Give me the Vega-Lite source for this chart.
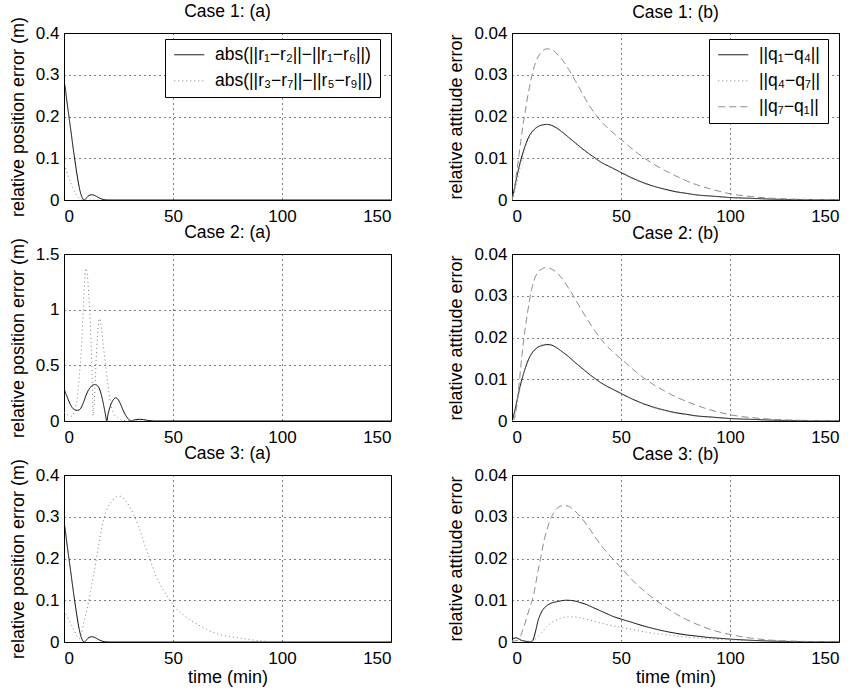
{
  "$schema": "https://vega.github.io/schema/vega-lite/v6.json",
  "background": "white",
  "padding": {"left": 8, "top": 2, "right": 5, "bottom": 0},
  "config": {
    "font": "Liberation Sans",
    "view": {"stroke": "black", "strokeWidth": 1},
    "axis": {"domain": false, "ticks": false, "grid": true, "gridColor": "black", "gridDash": [1, 4], "gridOpacity": 1, "gridWidth": 1,
      "labelFontSize": 17, "labelColor": "black", "titleFontSize": 18, "titleFontWeight": "normal", "titleColor": "black"},
    "axisX": {"labelPadding": 8, "titlePadding": 2},
    "axisY": {"labelPadding": 5, "titlePadding": 8},
    "title": {"fontSize": 17.5, "fontWeight": "normal", "color": "black"},
    "legend": {"strokeColor": "black", "fillColor": "white", "padding": 7, "labelFontSize": 17.5, "labelColor": "black", "symbolType": "M-1.875,0H1.875", "symbolSize": 256, "symbolStrokeWidth": 1, "symbolOffset": 8.5, "labelOffset": 17, "cornerRadius": 0, "rowPadding": 7}
  },
  "columns": 2,
  "spacing": {"row": 54, "column": 121},
  "bounds": "flush",
  "resolve": {"scale": {"color": "independent", "strokeDash": "independent"}, "legend": {"color": "independent", "strokeDash": "independent"}},
  "datasets": {
    "c1a": [
      {"t":0,"v":0.283,"s":"A"},{"t":0.5,"v":0.272,"s":"A"},{"t":1,"v":0.25,"s":"A"},{"t":2,"v":0.21,"s":"A"},{"t":3,"v":0.172,"s":"A"},{"t":4,"v":0.132,"s":"A"},{"t":5,"v":0.095,"s":"A"},{"t":6,"v":0.06,"s":"A"},{"t":7,"v":0.03,"s":"A"},{"t":8,"v":0.01,"s":"A"},{"t":9,"v":0.001,"s":"A"},{"t":9.4,"v":0,"s":"A"},{"t":10,"v":0.003,"s":"A"},{"t":11,"v":0.009,"s":"A"},{"t":12.5,"v":0.0125,"s":"A"},{"t":14,"v":0.011,"s":"A"},{"t":15.5,"v":0.007,"s":"A"},{"t":17,"v":0.003,"s":"A"},{"t":19,"v":0.0005,"s":"A"},{"t":21,"v":0,"s":"A"},{"t":150,"v":0,"s":"A"},
      {"t":0,"v":0.085,"s":"B"},{"t":1,"v":0.072,"s":"B"},{"t":2,"v":0.057,"s":"B"},{"t":3,"v":0.043,"s":"B"},{"t":4,"v":0.03,"s":"B"},{"t":5,"v":0.019,"s":"B"},{"t":6,"v":0.01,"s":"B"},{"t":7,"v":0.004,"s":"B"},{"t":8,"v":0.001,"s":"B"},{"t":9,"v":0,"s":"B"},{"t":150,"v":0,"s":"B"}
    ],
    "c2a": [
      {"t":0,"v":0.288,"s":"A"},{"t":1,"v":0.24,"s":"A"},{"t":2,"v":0.19,"s":"A"},{"t":3,"v":0.145,"s":"A"},{"t":4,"v":0.115,"s":"A"},{"t":5,"v":0.1,"s":"A"},{"t":6.2,"v":0.096,"s":"A"},{"t":7,"v":0.1,"s":"A"},{"t":8,"v":0.125,"s":"A"},{"t":9,"v":0.17,"s":"A"},{"t":10,"v":0.225,"s":"A"},{"t":11,"v":0.27,"s":"A"},{"t":12,"v":0.3,"s":"A"},{"t":13,"v":0.32,"s":"A"},{"t":14.3,"v":0.327,"s":"A"},{"t":15.3,"v":0.318,"s":"A"},{"t":16,"v":0.3,"s":"A"},{"t":17,"v":0.245,"s":"A"},{"t":18,"v":0.16,"s":"A"},{"t":19,"v":0.06,"s":"A"},{"t":19.6,"v":0,"s":"A"},{"t":20.2,"v":0.06,"s":"A"},{"t":21,"v":0.12,"s":"A"},{"t":22,"v":0.17,"s":"A"},{"t":23,"v":0.2,"s":"A"},{"t":23.7,"v":0.208,"s":"A"},{"t":24.5,"v":0.2,"s":"A"},{"t":25.5,"v":0.17,"s":"A"},{"t":26.5,"v":0.125,"s":"A"},{"t":27.5,"v":0.08,"s":"A"},{"t":28.5,"v":0.045,"s":"A"},{"t":29.5,"v":0.018,"s":"A"},{"t":30.8,"v":0,"s":"A"},{"t":32,"v":0.008,"s":"A"},{"t":33.5,"v":0.014,"s":"A"},{"t":35,"v":0.015,"s":"A"},{"t":36.5,"v":0.012,"s":"A"},{"t":38,"v":0.007,"s":"A"},{"t":40,"v":0.002,"s":"A"},{"t":42,"v":0,"s":"A"},{"t":150,"v":0,"s":"A"},
      {"t":0,"v":0.08,"s":"B"},{"t":1,"v":0.065,"s":"B"},{"t":2,"v":0.05,"s":"B"},{"t":3,"v":0.042,"s":"B"},{"t":4,"v":0.05,"s":"B"},{"t":5,"v":0.1,"s":"B"},{"t":6,"v":0.2,"s":"B"},{"t":6.8,"v":0.35,"s":"B"},{"t":7.8,"v":0.6,"s":"B"},{"t":8.6,"v":0.9,"s":"B"},{"t":9.3,"v":1.2,"s":"B"},{"t":10,"v":1.37,"s":"B"},{"t":10.6,"v":1.33,"s":"B"},{"t":11.3,"v":1.15,"s":"B"},{"t":12,"v":0.9,"s":"B"},{"t":12.5,"v":0.65,"s":"B"},{"t":13,"v":0.3,"s":"B"},{"t":13.4,"v":0.05,"s":"B"},{"t":13.7,"v":0.1,"s":"B"},{"t":14.3,"v":0.35,"s":"B"},{"t":15,"v":0.65,"s":"B"},{"t":15.7,"v":0.85,"s":"B"},{"t":16.3,"v":0.92,"s":"B"},{"t":17,"v":0.86,"s":"B"},{"t":17.8,"v":0.72,"s":"B"},{"t":18.5,"v":0.6,"s":"B"},{"t":19.3,"v":0.46,"s":"B"},{"t":20.2,"v":0.32,"s":"B"},{"t":21,"v":0.2,"s":"B"},{"t":22,"v":0.11,"s":"B"},{"t":23,"v":0.06,"s":"B"},{"t":24.5,"v":0.03,"s":"B"},{"t":26,"v":0.012,"s":"B"},{"t":28,"v":0.004,"s":"B"},{"t":30,"v":0,"s":"B"},{"t":150,"v":0,"s":"B"}
    ],
    "c3a": [
      {"t":0,"v":0.283,"s":"A"},{"t":0.5,"v":0.272,"s":"A"},{"t":1,"v":0.25,"s":"A"},{"t":2,"v":0.21,"s":"A"},{"t":3,"v":0.172,"s":"A"},{"t":4,"v":0.132,"s":"A"},{"t":5,"v":0.095,"s":"A"},{"t":6,"v":0.06,"s":"A"},{"t":7,"v":0.03,"s":"A"},{"t":8,"v":0.01,"s":"A"},{"t":9,"v":0.001,"s":"A"},{"t":9.4,"v":0,"s":"A"},{"t":10,"v":0.003,"s":"A"},{"t":11,"v":0.009,"s":"A"},{"t":12.5,"v":0.0125,"s":"A"},{"t":14,"v":0.011,"s":"A"},{"t":15.5,"v":0.007,"s":"A"},{"t":17,"v":0.003,"s":"A"},{"t":19,"v":0.0005,"s":"A"},{"t":21,"v":0,"s":"A"},{"t":150,"v":0,"s":"A"},
      {"t":0,"v":0.075,"s":"B"},{"t":1,"v":0.066,"s":"B"},{"t":2,"v":0.056,"s":"B"},{"t":3,"v":0.045,"s":"B"},{"t":4,"v":0.035,"s":"B"},{"t":5,"v":0.024,"s":"B"},{"t":6,"v":0.014,"s":"B"},{"t":7,"v":0.008,"s":"B"},{"t":8,"v":0.02,"s":"B"},{"t":9,"v":0.045,"s":"B"},{"t":10,"v":0.066,"s":"B"},{"t":11,"v":0.09,"s":"B"},{"t":12,"v":0.115,"s":"B"},{"t":13,"v":0.145,"s":"B"},{"t":14,"v":0.172,"s":"B"},{"t":16,"v":0.235,"s":"B"},{"t":18,"v":0.29,"s":"B"},{"t":20,"v":0.322,"s":"B"},{"t":22,"v":0.337,"s":"B"},{"t":24,"v":0.348,"s":"B"},{"t":26,"v":0.349,"s":"B"},{"t":28,"v":0.34,"s":"B"},{"t":30,"v":0.325,"s":"B"},{"t":32,"v":0.305,"s":"B"},{"t":34,"v":0.28,"s":"B"},{"t":36,"v":0.25,"s":"B"},{"t":38,"v":0.218,"s":"B"},{"t":40,"v":0.19,"s":"B"},{"t":42,"v":0.16,"s":"B"},{"t":44,"v":0.139,"s":"B"},{"t":46,"v":0.121,"s":"B"},{"t":48,"v":0.104,"s":"B"},{"t":50,"v":0.089,"s":"B"},{"t":52,"v":0.077,"s":"B"},{"t":55,"v":0.064,"s":"B"},{"t":58,"v":0.052,"s":"B"},{"t":61,"v":0.043,"s":"B"},{"t":64,"v":0.034,"s":"B"},{"t":68,"v":0.024,"s":"B"},{"t":72,"v":0.017,"s":"B"},{"t":76,"v":0.013,"s":"B"},{"t":80,"v":0.01,"s":"B"},{"t":85,"v":0.006,"s":"B"},{"t":90,"v":0.003,"s":"B"},{"t":95,"v":0.001,"s":"B"},{"t":100,"v":0,"s":"B"},{"t":150,"v":0,"s":"B"}
    ],
    "c1b": [
      {"t":0,"v":0,"s":"A"},{"t":1,"v":0.0025,"s":"A"},{"t":2,"v":0.005,"s":"A"},{"t":3,"v":0.0074,"s":"A"},{"t":4,"v":0.0095,"s":"A"},{"t":5,"v":0.0113,"s":"A"},{"t":6,"v":0.0129,"s":"A"},{"t":7,"v":0.0143,"s":"A"},{"t":8,"v":0.0154,"s":"A"},{"t":10,"v":0.0168,"s":"A"},{"t":12,"v":0.0176,"s":"A"},{"t":14,"v":0.018,"s":"A"},{"t":16,"v":0.0181,"s":"A"},{"t":18,"v":0.0179,"s":"A"},{"t":20,"v":0.0174,"s":"A"},{"t":23,"v":0.0163,"s":"A"},{"t":26,"v":0.015,"s":"A"},{"t":29,"v":0.0137,"s":"A"},{"t":32,"v":0.0124,"s":"A"},{"t":35,"v":0.0112,"s":"A"},{"t":38,"v":0.0101,"s":"A"},{"t":41,"v":0.009,"s":"A"},{"t":44,"v":0.0082,"s":"A"},{"t":47,"v":0.0074,"s":"A"},{"t":50,"v":0.0066,"s":"A"},{"t":55,"v":0.0053,"s":"A"},{"t":60,"v":0.0042,"s":"A"},{"t":65,"v":0.0033,"s":"A"},{"t":70,"v":0.0026,"s":"A"},{"t":75,"v":0.002,"s":"A"},{"t":80,"v":0.0016,"s":"A"},{"t":85,"v":0.0012,"s":"A"},{"t":90,"v":0.001,"s":"A"},{"t":95,"v":0.0008,"s":"A"},{"t":100,"v":0.0006,"s":"A"},{"t":110,"v":0.0004,"s":"A"},{"t":120,"v":0.0002,"s":"A"},{"t":130,"v":0.0001,"s":"A"},{"t":140,"v":0.00006,"s":"A"},{"t":150,"v":0.00003,"s":"A"},
      {"t":0,"v":0,"s":"B"},{"t":1,"v":0.0015,"s":"B"},{"t":2,"v":0.0038,"s":"B"},{"t":3,"v":0.0062,"s":"B"},{"t":4,"v":0.0085,"s":"B"},{"t":5,"v":0.0106,"s":"B"},{"t":6,"v":0.0124,"s":"B"},{"t":7,"v":0.0139,"s":"B"},{"t":8,"v":0.0151,"s":"B"},{"t":10,"v":0.0166,"s":"B"},{"t":12,"v":0.0176,"s":"B"},{"t":14,"v":0.018,"s":"B"},{"t":16,"v":0.0181,"s":"B"},{"t":18,"v":0.0179,"s":"B"},{"t":20,"v":0.0173,"s":"B"},{"t":23,"v":0.0162,"s":"B"},{"t":26,"v":0.0149,"s":"B"},{"t":29,"v":0.0136,"s":"B"},{"t":32,"v":0.0123,"s":"B"},{"t":35,"v":0.0111,"s":"B"},{"t":38,"v":0.01,"s":"B"},{"t":41,"v":0.0089,"s":"B"},{"t":44,"v":0.0081,"s":"B"},{"t":47,"v":0.0073,"s":"B"},{"t":50,"v":0.0065,"s":"B"},{"t":55,"v":0.0052,"s":"B"},{"t":60,"v":0.0041,"s":"B"},{"t":65,"v":0.0032,"s":"B"},{"t":70,"v":0.0025,"s":"B"},{"t":75,"v":0.0019,"s":"B"},{"t":80,"v":0.0015,"s":"B"},{"t":85,"v":0.0011,"s":"B"},{"t":90,"v":0.0009,"s":"B"},{"t":95,"v":0.0007,"s":"B"},{"t":100,"v":0.0005,"s":"B"},{"t":110,"v":0.0003,"s":"B"},{"t":120,"v":0.00015,"s":"B"},{"t":130,"v":0.0001,"s":"B"},{"t":140,"v":0.00005,"s":"B"},{"t":150,"v":0.00002,"s":"B"},
      {"t":0,"v":0,"s":"C"},{"t":1,"v":0.0025,"s":"C"},{"t":2,"v":0.006,"s":"C"},{"t":3,"v":0.01,"s":"C"},{"t":4,"v":0.014,"s":"C"},{"t":5,"v":0.0178,"s":"C"},{"t":6,"v":0.021,"s":"C"},{"t":7,"v":0.0242,"s":"C"},{"t":8,"v":0.027,"s":"C"},{"t":9,"v":0.0295,"s":"C"},{"t":10,"v":0.0316,"s":"C"},{"t":12,"v":0.0343,"s":"C"},{"t":14,"v":0.0357,"s":"C"},{"t":16,"v":0.0362,"s":"C"},{"t":18,"v":0.0361,"s":"C"},{"t":20,"v":0.0353,"s":"C"},{"t":23,"v":0.0336,"s":"C"},{"t":26,"v":0.0313,"s":"C"},{"t":29,"v":0.0286,"s":"C"},{"t":32,"v":0.0258,"s":"C"},{"t":35,"v":0.023,"s":"C"},{"t":38,"v":0.0207,"s":"C"},{"t":41,"v":0.0188,"s":"C"},{"t":44,"v":0.0172,"s":"C"},{"t":47,"v":0.0158,"s":"C"},{"t":50,"v":0.0145,"s":"C"},{"t":55,"v":0.0123,"s":"C"},{"t":60,"v":0.0103,"s":"C"},{"t":65,"v":0.0086,"s":"C"},{"t":70,"v":0.0071,"s":"C"},{"t":75,"v":0.0058,"s":"C"},{"t":80,"v":0.0046,"s":"C"},{"t":85,"v":0.0036,"s":"C"},{"t":90,"v":0.0028,"s":"C"},{"t":95,"v":0.0021,"s":"C"},{"t":100,"v":0.0015,"s":"C"},{"t":110,"v":0.0008,"s":"C"},{"t":120,"v":0.0004,"s":"C"},{"t":130,"v":0.0002,"s":"C"},{"t":140,"v":0.0001,"s":"C"},{"t":150,"v":0.00005,"s":"C"}
    ],
    "c2b": [
      {"t":0,"v":0,"s":"A"},{"t":1,"v":0.0018,"s":"A"},{"t":2,"v":0.0042,"s":"A"},{"t":3,"v":0.0067,"s":"A"},{"t":4,"v":0.0089,"s":"A"},{"t":5,"v":0.0108,"s":"A"},{"t":6,"v":0.0125,"s":"A"},{"t":7,"v":0.014,"s":"A"},{"t":8,"v":0.0152,"s":"A"},{"t":10,"v":0.0168,"s":"A"},{"t":12,"v":0.0177,"s":"A"},{"t":14,"v":0.0181,"s":"A"},{"t":16,"v":0.0183,"s":"A"},{"t":18,"v":0.0182,"s":"A"},{"t":20,"v":0.0177,"s":"A"},{"t":23,"v":0.0166,"s":"A"},{"t":26,"v":0.0154,"s":"A"},{"t":29,"v":0.014,"s":"A"},{"t":32,"v":0.0127,"s":"A"},{"t":35,"v":0.0114,"s":"A"},{"t":38,"v":0.0102,"s":"A"},{"t":41,"v":0.0091,"s":"A"},{"t":44,"v":0.0082,"s":"A"},{"t":47,"v":0.0074,"s":"A"},{"t":50,"v":0.0066,"s":"A"},{"t":55,"v":0.0053,"s":"A"},{"t":60,"v":0.0042,"s":"A"},{"t":65,"v":0.0033,"s":"A"},{"t":70,"v":0.0026,"s":"A"},{"t":75,"v":0.002,"s":"A"},{"t":80,"v":0.0016,"s":"A"},{"t":85,"v":0.0012,"s":"A"},{"t":90,"v":0.001,"s":"A"},{"t":95,"v":0.0008,"s":"A"},{"t":100,"v":0.0006,"s":"A"},{"t":110,"v":0.0004,"s":"A"},{"t":120,"v":0.0002,"s":"A"},{"t":130,"v":0.0001,"s":"A"},{"t":140,"v":0.00006,"s":"A"},{"t":150,"v":0.00003,"s":"A"},
      {"t":0,"v":0,"s":"B"},{"t":1,"v":0.001,"s":"B"},{"t":2,"v":0.0032,"s":"B"},{"t":3,"v":0.006,"s":"B"},{"t":4,"v":0.0085,"s":"B"},{"t":5,"v":0.0106,"s":"B"},{"t":6,"v":0.0125,"s":"B"},{"t":7,"v":0.014,"s":"B"},{"t":8,"v":0.0153,"s":"B"},{"t":10,"v":0.017,"s":"B"},{"t":12,"v":0.0179,"s":"B"},{"t":14,"v":0.0183,"s":"B"},{"t":16,"v":0.0184,"s":"B"},{"t":18,"v":0.0183,"s":"B"},{"t":20,"v":0.0178,"s":"B"},{"t":23,"v":0.0166,"s":"B"},{"t":26,"v":0.0153,"s":"B"},{"t":29,"v":0.0139,"s":"B"},{"t":32,"v":0.0126,"s":"B"},{"t":35,"v":0.0113,"s":"B"},{"t":38,"v":0.0101,"s":"B"},{"t":41,"v":0.009,"s":"B"},{"t":44,"v":0.0081,"s":"B"},{"t":47,"v":0.0073,"s":"B"},{"t":50,"v":0.0065,"s":"B"},{"t":55,"v":0.0052,"s":"B"},{"t":60,"v":0.0041,"s":"B"},{"t":65,"v":0.0032,"s":"B"},{"t":70,"v":0.0025,"s":"B"},{"t":75,"v":0.0019,"s":"B"},{"t":80,"v":0.0015,"s":"B"},{"t":85,"v":0.0011,"s":"B"},{"t":90,"v":0.0009,"s":"B"},{"t":95,"v":0.0007,"s":"B"},{"t":100,"v":0.0005,"s":"B"},{"t":110,"v":0.0003,"s":"B"},{"t":120,"v":0.00015,"s":"B"},{"t":130,"v":0.0001,"s":"B"},{"t":140,"v":0.00005,"s":"B"},{"t":150,"v":0.00002,"s":"B"},
      {"t":0,"v":0,"s":"C"},{"t":1,"v":0.0005,"s":"C"},{"t":2,"v":0.003,"s":"C"},{"t":3,"v":0.0075,"s":"C"},{"t":4,"v":0.0128,"s":"C"},{"t":5,"v":0.0178,"s":"C"},{"t":6,"v":0.022,"s":"C"},{"t":7,"v":0.0255,"s":"C"},{"t":8,"v":0.0288,"s":"C"},{"t":9,"v":0.0315,"s":"C"},{"t":10,"v":0.0335,"s":"C"},{"t":12,"v":0.0357,"s":"C"},{"t":14,"v":0.0365,"s":"C"},{"t":16,"v":0.0368,"s":"C"},{"t":18,"v":0.0364,"s":"C"},{"t":20,"v":0.0358,"s":"C"},{"t":23,"v":0.0341,"s":"C"},{"t":26,"v":0.0318,"s":"C"},{"t":29,"v":0.0292,"s":"C"},{"t":32,"v":0.0265,"s":"C"},{"t":35,"v":0.024,"s":"C"},{"t":38,"v":0.0216,"s":"C"},{"t":41,"v":0.0195,"s":"C"},{"t":44,"v":0.0177,"s":"C"},{"t":47,"v":0.0162,"s":"C"},{"t":50,"v":0.0149,"s":"C"},{"t":55,"v":0.0126,"s":"C"},{"t":60,"v":0.0105,"s":"C"},{"t":65,"v":0.0087,"s":"C"},{"t":70,"v":0.0072,"s":"C"},{"t":75,"v":0.0058,"s":"C"},{"t":80,"v":0.0047,"s":"C"},{"t":85,"v":0.0037,"s":"C"},{"t":90,"v":0.0028,"s":"C"},{"t":95,"v":0.0021,"s":"C"},{"t":100,"v":0.0015,"s":"C"},{"t":110,"v":0.0008,"s":"C"},{"t":120,"v":0.0004,"s":"C"},{"t":130,"v":0.0002,"s":"C"},{"t":140,"v":0.0001,"s":"C"},{"t":150,"v":0.00005,"s":"C"}
    ],
    "c3b": [
      {"t":0,"v":0.0008,"s":"A"},{"t":1,"v":0.0009,"s":"A"},{"t":2,"v":0.001,"s":"A"},{"t":3,"v":0.0008,"s":"A"},{"t":4,"v":0.0005,"s":"A"},{"t":5,"v":0.0003,"s":"A"},{"t":6,"v":0.0002,"s":"A"},{"t":7,"v":0.0001,"s":"A"},{"t":8.8,"v":0,"s":"A"},{"t":9.5,"v":0.0003,"s":"A"},{"t":10,"v":0.001,"s":"A"},{"t":11,"v":0.003,"s":"A"},{"t":12,"v":0.0052,"s":"A"},{"t":13,"v":0.0066,"s":"A"},{"t":14,"v":0.0076,"s":"A"},{"t":16,"v":0.0087,"s":"A"},{"t":18,"v":0.0093,"s":"A"},{"t":21,"v":0.0097,"s":"A"},{"t":25,"v":0.01,"s":"A"},{"t":28,"v":0.0099,"s":"A"},{"t":31,"v":0.0095,"s":"A"},{"t":34,"v":0.009,"s":"A"},{"t":37,"v":0.0083,"s":"A"},{"t":40,"v":0.0076,"s":"A"},{"t":43,"v":0.0069,"s":"A"},{"t":46,"v":0.0062,"s":"A"},{"t":50,"v":0.0055,"s":"A"},{"t":55,"v":0.0047,"s":"A"},{"t":60,"v":0.0039,"s":"A"},{"t":65,"v":0.0032,"s":"A"},{"t":70,"v":0.0026,"s":"A"},{"t":75,"v":0.0021,"s":"A"},{"t":80,"v":0.0017,"s":"A"},{"t":85,"v":0.0014,"s":"A"},{"t":90,"v":0.0011,"s":"A"},{"t":95,"v":0.0009,"s":"A"},{"t":100,"v":0.0007,"s":"A"},{"t":110,"v":0.0004,"s":"A"},{"t":120,"v":0.0002,"s":"A"},{"t":130,"v":0.0001,"s":"A"},{"t":140,"v":0.00005,"s":"A"},{"t":150,"v":0.00003,"s":"A"},
      {"t":0,"v":0.0002,"s":"B"},{"t":2,"v":0.0004,"s":"B"},{"t":4,"v":0.0004,"s":"B"},{"t":6,"v":0.0003,"s":"B"},{"t":8,"v":0.0002,"s":"B"},{"t":10,"v":0.0005,"s":"B"},{"t":12,"v":0.0013,"s":"B"},{"t":14,"v":0.0025,"s":"B"},{"t":16,"v":0.0037,"s":"B"},{"t":18,"v":0.0046,"s":"B"},{"t":20,"v":0.0052,"s":"B"},{"t":23,"v":0.0058,"s":"B"},{"t":26,"v":0.006,"s":"B"},{"t":29,"v":0.006,"s":"B"},{"t":32,"v":0.0057,"s":"B"},{"t":35,"v":0.0053,"s":"B"},{"t":38,"v":0.0049,"s":"B"},{"t":41,"v":0.0045,"s":"B"},{"t":44,"v":0.0041,"s":"B"},{"t":47,"v":0.0038,"s":"B"},{"t":50,"v":0.0035,"s":"B"},{"t":55,"v":0.003,"s":"B"},{"t":60,"v":0.0025,"s":"B"},{"t":65,"v":0.0021,"s":"B"},{"t":70,"v":0.0018,"s":"B"},{"t":75,"v":0.0015,"s":"B"},{"t":80,"v":0.0012,"s":"B"},{"t":85,"v":0.001,"s":"B"},{"t":90,"v":0.0008,"s":"B"},{"t":95,"v":0.0006,"s":"B"},{"t":100,"v":0.0005,"s":"B"},{"t":110,"v":0.0003,"s":"B"},{"t":120,"v":0.0002,"s":"B"},{"t":130,"v":0.0001,"s":"B"},{"t":150,"v":0.00003,"s":"B"},
      {"t":0,"v":0.0002,"s":"C"},{"t":2,"v":0.0003,"s":"C"},{"t":3,"v":0.0006,"s":"C"},{"t":4,"v":0.0015,"s":"C"},{"t":5,"v":0.003,"s":"C"},{"t":6,"v":0.0045,"s":"C"},{"t":7,"v":0.0063,"s":"C"},{"t":8,"v":0.008,"s":"C"},{"t":9.3,"v":0.01,"s":"C"},{"t":10,"v":0.0115,"s":"C"},{"t":11,"v":0.0143,"s":"C"},{"t":12,"v":0.0172,"s":"C"},{"t":13.1,"v":0.02,"s":"C"},{"t":14,"v":0.0225,"s":"C"},{"t":15,"v":0.025,"s":"C"},{"t":16,"v":0.0268,"s":"C"},{"t":17,"v":0.0285,"s":"C"},{"t":18,"v":0.0298,"s":"C"},{"t":19,"v":0.0308,"s":"C"},{"t":20,"v":0.0316,"s":"C"},{"t":22,"v":0.0325,"s":"C"},{"t":24,"v":0.0327,"s":"C"},{"t":26,"v":0.0325,"s":"C"},{"t":28,"v":0.0318,"s":"C"},{"t":30,"v":0.0308,"s":"C"},{"t":33,"v":0.029,"s":"C"},{"t":36,"v":0.0268,"s":"C"},{"t":39,"v":0.0245,"s":"C"},{"t":42,"v":0.0224,"s":"C"},{"t":45,"v":0.0206,"s":"C"},{"t":48,"v":0.0189,"s":"C"},{"t":51,"v":0.0172,"s":"C"},{"t":54,"v":0.0155,"s":"C"},{"t":57,"v":0.0139,"s":"C"},{"t":60,"v":0.0125,"s":"C"},{"t":63,"v":0.0112,"s":"C"},{"t":66,"v":0.01,"s":"C"},{"t":70,"v":0.0085,"s":"C"},{"t":75,"v":0.0068,"s":"C"},{"t":80,"v":0.0054,"s":"C"},{"t":85,"v":0.0042,"s":"C"},{"t":90,"v":0.0032,"s":"C"},{"t":95,"v":0.0024,"s":"C"},{"t":100,"v":0.0018,"s":"C"},{"t":105,"v":0.0013,"s":"C"},{"t":110,"v":0.0009,"s":"C"},{"t":120,"v":0.0004,"s":"C"},{"t":130,"v":0.0002,"s":"C"},{"t":140,"v":0.0001,"s":"C"},{"t":150,"v":0.00005,"s":"C"}
    ]
  },
  "concat": [
    {
      "width": 327, "height": 167, "title": {"text": "Case 1: (a)", "offset": 0, "dy": 4},
      "data": {"name": "c1a"},
      "mark": {"type": "line", "strokeWidth": 1, "interpolate": "monotone", "clip": true},
      "encoding": {
        "x": {"field": "t", "type": "quantitative", "scale": {"domain": [0, 150], "nice": false}, "axis": {"values": [0, 50, 100, 150], "title": null}},
        "y": {"field": "v", "type": "quantitative", "scale": {"domain": [0, 0.4], "nice": false}, "axis": {"values": [0, 0.1, 0.2, 0.3, 0.4], "format": "~g", "title": "relative position error (m)"}},
        "color": {"field": "s", "type": "nominal", "scale": {"domain": ["A", "B"], "range": ["black", "#808080"]},
          "legend": {"title": null, "orient": "none", "legendX": 101, "legendY": 6, "labelExpr": "datum.label == 'A' ? 'abs(||r₁−r₂||−||r₁−r₆||)' : 'abs(||r₃−r₇||−||r₅−r₉||)'"}},
        "strokeDash": {"field": "s", "type": "nominal", "scale": {"domain": ["A", "B"], "range": [[1, 0], [1, 3]]},
          "legend": {"title": null, "orient": "none", "legendX": 101, "legendY": 6, "labelExpr": "datum.label == 'A' ? 'abs(||r₁−r₂||−||r₁−r₆||)' : 'abs(||r₃−r₇||−||r₅−r₉||)'"}}
      }
    },
    {
      "width": 327, "height": 167, "title": {"text": "Case 1: (b)", "offset": 3},
      "data": {"name": "c1b"},
      "mark": {"type": "line", "strokeWidth": 1, "interpolate": "monotone", "clip": true},
      "encoding": {
        "x": {"field": "t", "type": "quantitative", "scale": {"domain": [0, 150], "nice": false}, "axis": {"values": [0, 50, 100, 150], "title": null}},
        "y": {"field": "v", "type": "quantitative", "scale": {"domain": [0, 0.04], "nice": false}, "axis": {"values": [0, 0.01, 0.02, 0.03, 0.04], "format": "~g", "title": "relative attitude error"}},
        "color": {"field": "s", "type": "nominal", "scale": {"domain": ["A", "B", "C"], "range": ["black", "#808080", "#8c8c8c"]},
          "legend": {"title": null, "orient": "none", "legendX": 197, "legendY": 6, "labelExpr": "datum.label == 'A' ? '||q₁−q₄||' : datum.label == 'B' ? '||q₄−q₇||' : '||q₇−q₁||'"}},
        "strokeDash": {"field": "s", "type": "nominal", "scale": {"domain": ["A", "B", "C"], "range": [[1, 0], [1, 3], [7, 4]]},
          "legend": {"title": null, "orient": "none", "legendX": 197, "legendY": 6, "labelExpr": "datum.label == 'A' ? '||q₁−q₄||' : datum.label == 'B' ? '||q₄−q₇||' : '||q₇−q₁||'"}}
      }
    },
    {
      "width": 327, "height": 167, "title": {"text": "Case 2: (a)", "offset": 0, "dy": 4},
      "data": {"name": "c2a"},
      "mark": {"type": "line", "strokeWidth": 1, "interpolate": "monotone", "clip": true},
      "encoding": {
        "x": {"field": "t", "type": "quantitative", "scale": {"domain": [0, 150], "nice": false}, "axis": {"values": [0, 50, 100, 150], "title": null}},
        "y": {"field": "v", "type": "quantitative", "scale": {"domain": [0, 1.5], "nice": false}, "axis": {"values": [0, 0.5, 1, 1.5], "format": "~g", "title": "relative position error (m)"}},
        "color": {"field": "s", "type": "nominal", "scale": {"domain": ["A", "B"], "range": ["black", "#808080"]}, "legend": null},
        "strokeDash": {"field": "s", "type": "nominal", "scale": {"domain": ["A", "B"], "range": [[1, 0], [1, 3]]}, "legend": null}
      }
    },
    {
      "width": 327, "height": 167, "title": {"text": "Case 2: (b)", "offset": 3},
      "data": {"name": "c2b"},
      "mark": {"type": "line", "strokeWidth": 1, "interpolate": "monotone", "clip": true},
      "encoding": {
        "x": {"field": "t", "type": "quantitative", "scale": {"domain": [0, 150], "nice": false}, "axis": {"values": [0, 50, 100, 150], "title": null}},
        "y": {"field": "v", "type": "quantitative", "scale": {"domain": [0, 0.04], "nice": false}, "axis": {"values": [0, 0.01, 0.02, 0.03, 0.04], "format": "~g", "title": "relative attitude error"}},
        "color": {"field": "s", "type": "nominal", "scale": {"domain": ["A", "B", "C"], "range": ["black", "#808080", "#8c8c8c"]}, "legend": null},
        "strokeDash": {"field": "s", "type": "nominal", "scale": {"domain": ["A", "B", "C"], "range": [[1, 0], [1, 3], [7, 4]]}, "legend": null}
      }
    },
    {
      "width": 327, "height": 167, "title": {"text": "Case 3: (a)", "offset": 0, "dy": 4},
      "data": {"name": "c3a"},
      "mark": {"type": "line", "strokeWidth": 1, "interpolate": "monotone", "clip": true},
      "encoding": {
        "x": {"field": "t", "type": "quantitative", "scale": {"domain": [0, 150], "nice": false}, "axis": {"values": [0, 50, 100, 150], "title": "time (min)"}},
        "y": {"field": "v", "type": "quantitative", "scale": {"domain": [0, 0.4], "nice": false}, "axis": {"values": [0, 0.1, 0.2, 0.3, 0.4], "format": "~g", "title": "relative position error (m)"}},
        "color": {"field": "s", "type": "nominal", "scale": {"domain": ["A", "B"], "range": ["black", "#808080"]}, "legend": null},
        "strokeDash": {"field": "s", "type": "nominal", "scale": {"domain": ["A", "B"], "range": [[1, 0], [1, 3]]}, "legend": null}
      }
    },
    {
      "width": 327, "height": 167, "title": {"text": "Case 3: (b)", "offset": 3},
      "data": {"name": "c3b"},
      "mark": {"type": "line", "strokeWidth": 1, "interpolate": "monotone", "clip": true},
      "encoding": {
        "x": {"field": "t", "type": "quantitative", "scale": {"domain": [0, 150], "nice": false}, "axis": {"values": [0, 50, 100, 150], "title": "time (min)"}},
        "y": {"field": "v", "type": "quantitative", "scale": {"domain": [0, 0.04], "nice": false}, "axis": {"values": [0, 0.01, 0.02, 0.03, 0.04], "format": "~g", "title": "relative attitude error"}},
        "color": {"field": "s", "type": "nominal", "scale": {"domain": ["A", "B", "C"], "range": ["black", "#808080", "#8c8c8c"]}, "legend": null},
        "strokeDash": {"field": "s", "type": "nominal", "scale": {"domain": ["A", "B", "C"], "range": [[1, 0], [1, 3], [7, 4]]}, "legend": null}
      }
    }
  ]
}
